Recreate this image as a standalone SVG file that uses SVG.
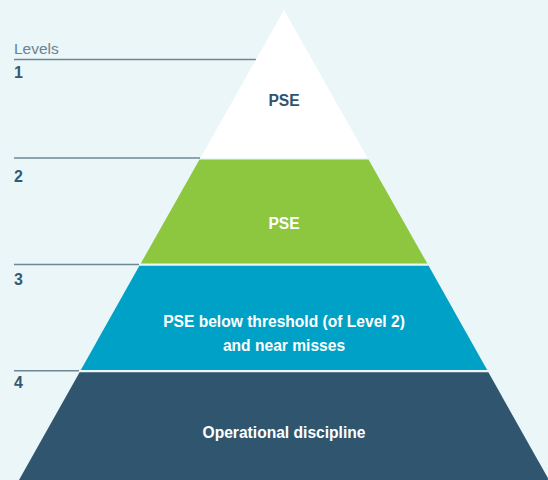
<svg xmlns="http://www.w3.org/2000/svg" width="548" height="480" viewBox="0 0 548 480">
<style>
.lvl{stroke:#6f8799;stroke-width:1.6;fill:none}
.num{font-family:"Liberation Sans",Arial,sans-serif;font-weight:bold;font-size:16px;fill:#355a72}
.lab{font-family:"Liberation Sans",Arial,sans-serif;font-weight:bold;font-size:15.6px;text-anchor:middle}
.w{fill:#ffffff}
.d{fill:#2f5470}
</style>
<rect width="548" height="480" fill="#eaf6f7"/>
<g id="connectors">
<line class="lvl" x1="14" y1="59.5" x2="256" y2="59.5"/>
<line class="lvl" x1="14" y1="158" x2="200" y2="158"/>
<line class="lvl" x1="14" y1="264.5" x2="139" y2="264.5"/>
<line class="lvl" x1="14" y1="370.8" x2="79" y2="370.8"/>
</g>
<g id="legend">
<text x="14" y="54" style="font-family:'Liberation Sans',Arial,sans-serif;font-size:15.5px;fill:#6a8292">Levels</text>
<text class="num" x="14" y="78">1</text>
<text class="num" x="14" y="182">2</text>
<text class="num" x="14" y="285">3</text>
<text class="num" x="14" y="388">4</text>
</g>
<g id="level1">
<polygon points="284,10 367.6,158 200.4,158" fill="#ffffff"/>
<text class="lab d" x="284" y="106">PSE</text>
</g>
<g id="level2">
<polygon points="199.5,159.5 368.5,159.5 427.3,263.6 140.7,263.6" fill="#8dc63f"/>
<text class="lab w" x="284" y="228.5">PSE</text>
</g>
<g id="level3">
<polygon points="139.4,265.8 428.6,265.8 487.2,370 80.8,370" fill="#00a1c6"/>
<text class="lab w" x="284" y="327.3">PSE below threshold (of Level 2)</text>
<text class="lab w" x="284" y="351.3">and near misses</text>
</g>
<g id="level4">
<polygon points="79.6,372.3 488.4,372.3 549,480 19,480" fill="#30556e"/>
<text class="lab w" x="284" y="437.7">Operational discipline</text>
</g>
</svg>
